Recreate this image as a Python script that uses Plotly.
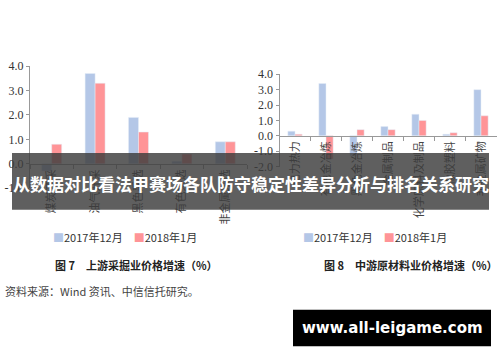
import plotly.graph_objects as go

W, H = 500, 362

# ---- data ----
left_cats = ["煤炭开采", "油气开采", "黑色采选", "有色采选", "非金属采选"]
left_dec2017 = [-0.3, 3.7, 1.9, 0.1, 0.9]
left_jan2018 = [0.8, 3.3, 1.3, 0.4, 0.9]

right_cats = ["电力热力", "有色金冶炼", "黑色金冶炼", "金属制品", "化学原料及制品", "橡胶塑料", "非金属矿物"]
right_dec2017 = [0.3, 3.4, -1.3, 0.6, 1.4, 0.1, 3.0]
right_jan2018 = [0.1, -1.5, 0.4, 0.4, 1.0, 0.2, 1.3]

series_names = ["2017年12月", "2018年1月"]
y_ticks_left = [-1.0, 0.0, 1.0, 2.0, 3.0, 4.0]
y_ticks_right = [-2.0, -1.0, 0.0, 1.0, 2.0, 3.0, 4.0]

title_text = "从数据对比看法甲赛场各队防守稳定性差异分析与排名关系研究"
cap_left = "图 7　上游采掘业价格增速（%）"
cap_right = "图 8　中游原材料业价格增速（%）"
source_text = "资料来源：Wind 资讯、中信信托研究。"
watermark = "www.all-leigame.com"

BLUE = "#b4c7e7"
RED = "#ff9497"

def px(x):
    return x / W

def py(y):
    return 1 - y / H

fig = go.Figure()
fig.add_trace(go.Bar(x=left_cats, y=left_dec2017, name=series_names[0], marker_color=BLUE,
                     xaxis="x", yaxis="y", showlegend=False))
fig.add_trace(go.Bar(x=left_cats, y=left_jan2018, name=series_names[1], marker_color=RED,
                     xaxis="x", yaxis="y", showlegend=False))
fig.add_trace(go.Bar(x=right_cats, y=right_dec2017, name=series_names[0], marker_color=BLUE,
                     xaxis="x2", yaxis="y2", showlegend=False))
fig.add_trace(go.Bar(x=right_cats, y=right_jan2018, name=series_names[1], marker_color=RED,
                     xaxis="x2", yaxis="y2", showlegend=False))

tickfont_cat = dict(family="Noto Sans CJK SC", size=11, color="#444")
tickfont_num = dict(family="Liberation Serif", size=12, color="#333")

# left plot: y 4 at 61.5px, -1 at 188.5px ; zero at 163.3
fig.update_layout(
    xaxis=dict(domain=[px(30), px(247)], anchor="free", position=py(163.3),
               showline=True, linecolor="#999", linewidth=1,
               ticks="outside", ticklen=4, tickcolor="#999", tickson="boundaries",
               tickangle=-90, tickfont=tickfont_cat, showgrid=False),
    yaxis=dict(domain=[py(188.5), py(61.5)], range=[-1, 4], anchor="x",
               tickvals=y_ticks_left, ticktext=[f"{v:.1f}" for v in y_ticks_left],
               showline=True, linecolor="#999", linewidth=1, ticks="outside", ticklen=3,
               tickcolor="#999", tickfont=tickfont_num, showgrid=False, zeroline=False),
    xaxis2=dict(domain=[px(279.5), px(496.5)], anchor="free", position=py(134),
                showline=True, linecolor="#999", linewidth=1,
                ticks="outside", ticklen=4, tickcolor="#999", tickson="boundaries",
                tickangle=-90, tickfont=tickfont_cat, showgrid=False),
    yaxis2=dict(domain=[py(166), py(70)], range=[-2, 4], anchor="x2",
                tickvals=y_ticks_right, ticktext=[f"{v:.1f}" for v in y_ticks_right],
                showline=True, linecolor="#999", linewidth=1, ticks="outside", ticklen=3,
                tickcolor="#999", tickfont=tickfont_num, showgrid=False, zeroline=False),
    barmode="group", bargap=0.54, bargroupgap=0,
    width=W, height=H, margin=dict(l=0, r=0, t=0, b=0),
    paper_bgcolor="white", plot_bgcolor="rgba(0,0,0,0)",
)

def legend_text():
    return (f'<span style="color:{BLUE}">■</span>{series_names[0]}　'
            f'<span style="color:{RED}">■</span>{series_names[1]}')

annos = [
    dict(x=px(125), y=py(239), text=legend_text(), xanchor="center", yanchor="middle",
         font=dict(family="Noto Sans CJK SC", size=11, color="#333")),
    dict(x=px(375), y=py(239), text=legend_text(), xanchor="center", yanchor="middle",
         font=dict(family="Noto Sans CJK SC", size=11, color="#333")),
    dict(x=px(136), y=py(268), text=f"<b>{cap_left}</b>", xanchor="center", yanchor="middle",
         font=dict(family="Noto Sans CJK SC", size=11, color="#222")),
    dict(x=px(411), y=py(268), text=f"<b>{cap_right}</b>", xanchor="center", yanchor="middle",
         font=dict(family="Noto Sans CJK SC", size=11, color="#222")),
    dict(x=px(3), y=py(295), text=source_text, xanchor="left", yanchor="middle",
         font=dict(family="Noto Sans CJK SC", size=11, color="#444")),
    dict(x=px(251), y=py(184), text=f"<b>{title_text}</b>", xanchor="center", yanchor="middle",
         font=dict(family="Noto Sans CJK SC", size=17, color="white")),
    dict(x=px(392), y=py(334), text=f"<b>{watermark}</b>", xanchor="center", yanchor="middle",
         font=dict(family="DejaVu Sans", size=15, color="white")),
]
for a in annos:
    a.update(xref="paper", yref="paper", showarrow=False)
fig.update_layout(annotations=annos)

fig.update_layout(shapes=[
    dict(type="rect", xref="paper", yref="paper", x0=px(12), x1=px(489), y0=py(211), y1=py(152),
         fillcolor="rgba(60,60,60,0.82)", line=dict(width=0), layer="above"),
    dict(type="rect", xref="paper", yref="paper", x0=px(293), x1=px(491), y0=py(353), y1=py(315),
         fillcolor="black", line=dict(width=0), layer="above"),
])

fig.write_html("out.html")
